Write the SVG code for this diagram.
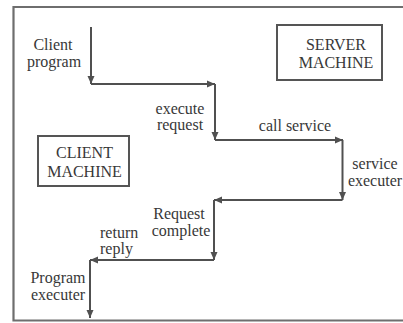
<svg xmlns="http://www.w3.org/2000/svg" width="403" height="323" viewBox="0 0 403 323">
<style>
  .frame { fill: none; stroke: #6e6e6e; stroke-width: 2.2; }
  .box { fill: #ffffff; stroke: #555555; stroke-width: 2; }
  .conn { fill: none; stroke: #505050; stroke-width: 2; marker-end: url(#arr); }
  .lbl { font-family: "Liberation Serif", "Times New Roman", serif; font-size: 16px; fill: #383838; text-anchor: middle; }
  .start { text-anchor: start; }
</style>
<defs>
  <marker id="arr" markerUnits="userSpaceOnUse" markerWidth="9" markerHeight="8" refX="8" refY="4" orient="auto">
    <path d="M0,0.5 L8,4 L0,7.5 z" fill="#505050"/>
  </marker>
</defs>
<rect x="0" y="0" width="403" height="323" fill="#ffffff"/>
<g id="frame">
  <path class="frame" d="M403,7 L13.5,7 L13.5,320.5 L403,320.5"/>
</g>
<g id="connectors">
  <line class="conn" x1="91" y1="27" x2="91" y2="84"/>
  <line class="conn" x1="91" y1="84" x2="215" y2="84"/>
  <line class="conn" x1="215" y1="84" x2="215" y2="140"/>
  <line class="conn" x1="215" y1="140" x2="343" y2="140"/>
  <line class="conn" x1="342.5" y1="140" x2="342.5" y2="200"/>
  <line class="conn" x1="342.5" y1="200" x2="214" y2="200"/>
  <line class="conn" x1="214" y1="200" x2="214" y2="260"/>
  <line class="conn" x1="214" y1="260" x2="90" y2="260"/>
  <line class="conn" x1="90" y1="260" x2="90" y2="318"/>
</g>
<g id="client-machine">
  <rect class="box" x="38" y="136" width="91" height="50"/>
  <text class="lbl" x="84.5" y="158">CLIENT</text>
  <text class="lbl" x="84.5" y="177">MACHINE</text>
</g>
<g id="server-machine">
  <rect class="box" x="277" y="25" width="105" height="55"/>
  <text class="lbl" x="336" y="50">SERVER</text>
  <text class="lbl" x="336" y="68">MACHINE</text>
</g>
<g id="client-program">
  <text class="lbl" x="53" y="50">Client</text>
  <text class="lbl" x="54" y="67">program</text>
</g>
<g id="execute-request">
  <text class="lbl" x="180" y="114">execute</text>
  <text class="lbl" x="180" y="130">request</text>
</g>
<g id="call-service">
  <text class="lbl" x="295" y="131">call service</text>
</g>
<g id="service-executer">
  <text class="lbl" x="375" y="169">service</text>
  <text class="lbl" x="375" y="186">executer</text>
</g>
<g id="request-complete">
  <text class="lbl" x="179" y="219">Request</text>
  <text class="lbl" x="181" y="236">complete</text>
</g>
<g id="return-reply">
  <text class="lbl start" x="100" y="238">return</text>
  <text class="lbl start" x="100" y="254">reply</text>
</g>
<g id="program-executer">
  <text class="lbl" x="58" y="283">Program</text>
  <text class="lbl" x="58" y="300">executer</text>
</g>
</svg>
